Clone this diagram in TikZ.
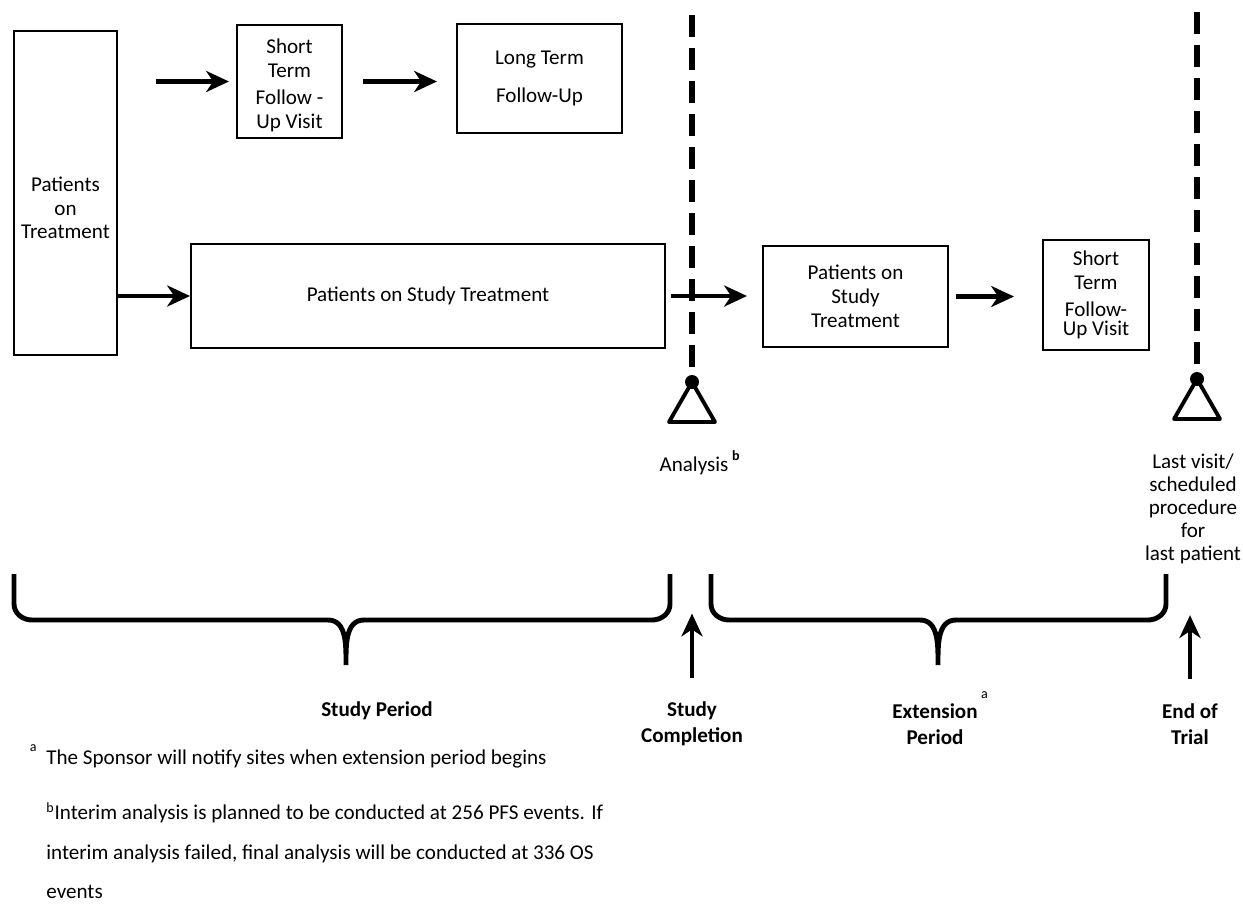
\documentclass[tikz,border=0pt]{standalone}
\usepackage{fontspec}
\setmainfont{Carlito}
\usetikzlibrary{arrows.meta}

\begin{document}
\begin{tikzpicture}[x=0.02cm, y=-0.02cm,
    font=\fontsize{12}{13.5}\selectfont,
    box/.style={draw, line width=1.2pt, align=center, inner sep=2pt},
    arr/.style={line width=2.3pt, -{Stealth[length=13pt,width=12pt,inset=4pt]}},
    cutline/.style={line width=3pt, dash pattern=on 0.44cm off 0.22cm},
    brc/.style={line width=2.8pt},
    trimark/.style={line width=2.2pt, line join=round},
    bold/.style={font=\fontsize{12}{15}\selectfont\bfseries, align=center}]
  \useasboundingbox (0,0) rectangle (1243,903);

  % boxes
  \node[box, minimum width=2.06cm, minimum height=6.48cm] (pot) at (65.5,193) {};
  \node[align=center] (pottxt) at ([yshift=-0.3cm]pot.center) {Patients\\on\\Treatment};
  \node[box, minimum width=2.1cm, minimum height=2.26cm] (stf1) at (289.5,81.5) {};
  \node[align=center] (stf1txt) at ([yshift=-0.08cm]stf1.center) {Short\\Term\\[2pt]Follow -\\Up Visit};
  \node[box, minimum width=3.3cm, minimum height=2.18cm] (ltf) at (539.5,78.5) {Long Term\\[8pt]Follow-Up};
  \node[box, minimum width=9.48cm, minimum height=2.08cm] (pst1) at (428,296) {Patients on Study Treatment};
  \node[box, minimum width=3.7cm, minimum height=2.02cm] (pst2) at (855.5,296.5) {Patients on\\Study\\Treatment};
  \node[box, minimum width=2.12cm, minimum height=2.2cm] (stf2) at (1096,295) {Short\\Term\\[2pt]Follow-\\[-3pt]Up Visit};

  % arrows between boxes
  \draw[arr, shorten <=0.76cm, shorten >=0.14cm] (pot.east |- stf1.west) -- (stf1.west);
  \draw[arr, shorten <=0.4cm, shorten >=0.38cm] (stf1.east) -- (stf1.east -| ltf.west);
  \draw[arr] (pot.east |- pst1.west) -- (pst1.west);
  \draw[arr, shorten <=0.1cm, shorten >=0.3cm] (pst1.east) -- (pst1.east -| pst2.west);
  \draw[arr, shorten <=0.14cm, shorten >=0.56cm] (pst2.east) -- (pst2.east -| stf2.west);

  % milestones
  \coordinate (anl) at (692,382);
  \coordinate (lpv) at (1197,379);
  \draw[cutline] (692,15) -- (anl);
  \draw[cutline] (1197,12) -- (lpv);
  \fill (anl) circle (0.14cm);
  \fill (lpv) circle (0.14cm);
  \draw[trimark] (anl) -- ++(-23,40) -- ++(46,0) -- cycle;
  \draw[trimark] (lpv) -- ++(-23,40) -- ++(46,0) -- cycle;
  \node (anltxt) at (700,463) {Analysis\,\raisebox{2pt}{\textsuperscript{\bfseries b}}};
  \node[align=center, font=\fontsize{12}{13}\selectfont] (lpvtxt) at (1193,509) {Last visit/\\scheduled\\procedure\\for\\last patient};

  % periods
  \draw[brc] (14,574) -- (14,604) to[out=-90,in=180] (32,620) -- (328,620)
    to[out=0,in=90] (346,665) to[out=90,in=180] (364,620) -- (652,620)
    to[out=0,in=-90] (670,604) -- (670,574);
  \draw[brc] (711,574) -- (711,604) to[out=-90,in=180] (729,620) -- (920,620)
    to[out=0,in=90] (938,665) to[out=90,in=180] (956,620) -- (1148,620)
    to[out=0,in=-90] (1166,604) -- (1166,574);
  \node[bold] (sper) at (377,711) {Study Period};
  \node[bold] (scomp) at (692,724) {Study\\Completion};
  \node[bold] (eper) at (935,724) {Extension\rlap{\,\smash{\raisebox{7pt}{\textsuperscript{\mdseries a}}}}\\Period};
  \node[bold] (eot) at (1190,724) {End of\\Trial};
  \draw[arr, line width=2pt, shorten <=0.36cm] (scomp.north) -- ++(0,-82);
  \draw[arr, line width=2pt, shorten <=0.36cm] (eot.north) -- ++(0,-82);

  % footnotes
  \node[anchor=west, inner sep=0pt] (fna) at (46,756) {\llap{\raisebox{3pt}{\textsuperscript{a}}\hspace{5pt}}The Sponsor will notify sites when extension period begins};
  \node[anchor=north west, align=left, inner sep=0pt, font=\fontsize{12}{22.4}\selectfont] (fnb) at (46,802)
    {\textsuperscript{b}Interim analysis is planned to be conducted at 256 PFS events. If\\interim analysis failed, final analysis will be conducted at 336 OS\\events};
\end{tikzpicture}
\end{document}
